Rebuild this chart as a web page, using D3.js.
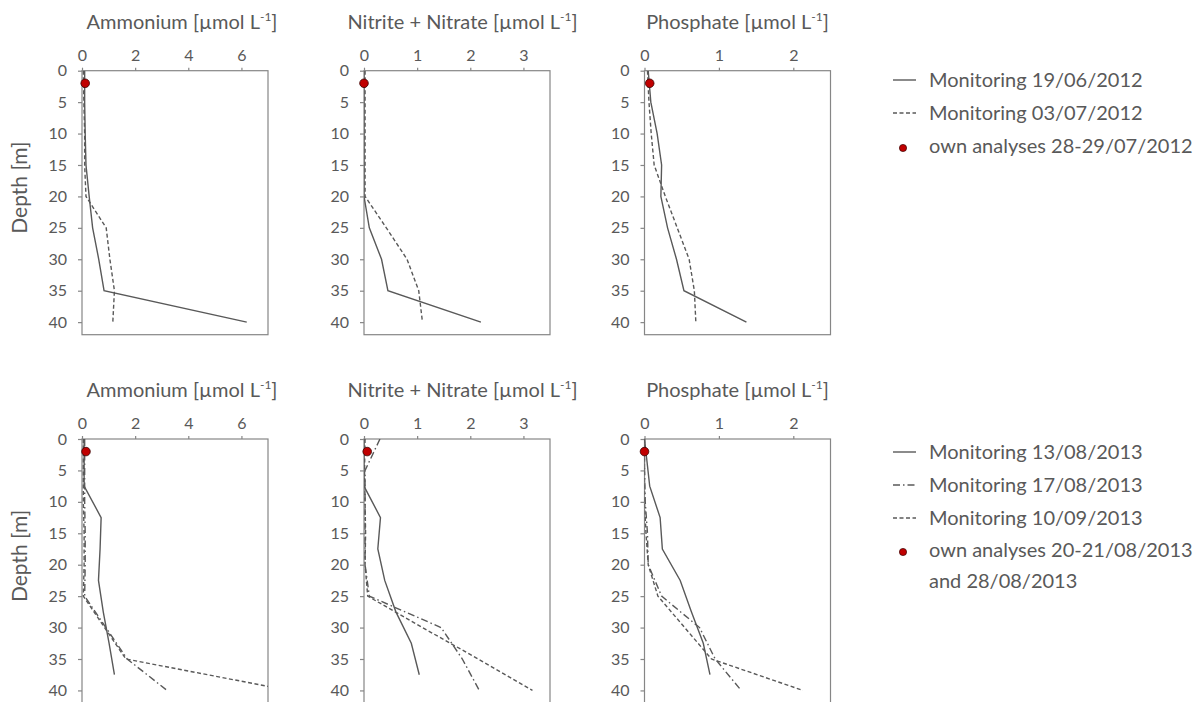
<!DOCTYPE html>
<html>
<head>
<meta charset="utf-8">
<script src="https://cdn.jsdelivr.net/npm/d3@7"></script>
<style>
  body { margin: 0; background: #fff; }
  svg { font-family: Lato, "Open Sans", sans-serif; }
</style>
</head>
<body>
<svg id="chart" width="1200" height="702"></svg>
<script>
// depths [m]
const depths2012 = [0, 5, 10, 15, 20, 25, 30, 35, 40];
const depths2013 = [0, 5, 10, 15, 20, 25, 30, 35, 40];
const depths130813 = [0, 7.5, 12.5, 17.5, 22.5, 27.5, 32.5, 37.5];
const ownDepth = [2];

// 2012 profiles
const nh4_190612 = [0.1, 0.1, 0.12, 0.15, 0.27, 0.4, 0.63, 0.83, 6.2];
const nh4_030712 = [0.05, 0.07, 0.1, 0.1, 0.15, 0.91, 1.05, 1.22, 1.16];
const nox_190612 = [0.0, 0.0, 0.0, 0.0, 0.0, 0.1, 0.33, 0.45, 2.2];
const nox_030712 = [0.02, 0.02, 0.02, 0.02, 0.02, 0.42, 0.81, 1.03, 1.1];
const po4_190612 = [0.05, 0.085, 0.17, 0.23, 0.22, 0.31, 0.43, 0.53, 1.37];
const po4_030712 = [0.04, 0.06, 0.09, 0.13, 0.28, 0.44, 0.6, 0.67, 0.69];
const own2012 = { nh4: [0.12], nox: [0.0], po4: [0.07] };

// 2013 profiles
const nh4_130813 = [0.08, 0.08, 0.72, 0.68, 0.62, 0.8, 1.02, 1.22];
const nh4_170813 = [0.1, 0.1, 0.1, 0.12, 0.12, 0.1, 0.9, 1.7, 3.2];
const nh4_100913 = [0.05, 0.05, 0.05, 0.08, 0.08, 0.05, 0.85, 1.65, 7.8];
const nox_130813 = [0.0, 0.0, 0.31, 0.26, 0.39, 0.6, 0.89, 1.04];
const nox_170813 = [0.3, 0.02, 0.02, 0.02, 0.02, 0.1, 1.45, 1.85, 2.17];
const nox_100913 = [0.02, 0.01, 0.02, 0.03, 0.02, 0.07, 1.1, 2.15, 3.17];
const po4_130813 = [0.0, 0.07, 0.21, 0.24, 0.48, 0.63, 0.79, 0.88];
const po4_170813 = [0.0, 0.0, 0.01, 0.04, 0.05, 0.23, 0.74, 0.95, 1.3];
const po4_100913 = [0.0, 0.0, 0.0, 0.02, 0.05, 0.18, 0.54, 0.9, 2.13];
const own2013 = { nh4: [0.15], nox: [0.06], po4: [0.0] };

// axes
const depthTicks = [0, 5, 10, 15, 20, 25, 30, 35, 40];
const depthMax = 42;
const nutrients = ["nh4", "nox", "po4"];
const nutrientNames = ["Ammonium [µmol L", "Nitrite + Nitrate [µmol L", "Phosphate [µmol L"];
const nutrientMax = [7, 3.5, 2.5];
const nutrientTicks = [[0, 2, 4, 6], [0, 1, 2, 3], [0, 1, 2]];

const legend2012 = ["Monitoring 19/06/2012", "Monitoring 03/07/2012", "own analyses 28-29/07/2012"];
const legend2013 = ["Monitoring 13/08/2013", "Monitoring 17/08/2013", "Monitoring 10/09/2013", "own analyses 20-21/08/2013", "and 28/08/2013"];

const grey = "#595959";
const boxGrey = "#868686";
const dotRed = "#c00000";
const styles = { solid: null, dashdot: "7,3,1.5,3", dashed: "4,2.5" };

const rows = [
  {
    top: 70.7,
    series: [
      { style: "solid", depths: depths2012, values: { nh4: nh4_190612, nox: nox_190612, po4: po4_190612 } },
      { style: "dashed", depths: depths2012, values: { nh4: nh4_030712, nox: nox_030712, po4: po4_030712 } }
    ],
    own: own2012,
    legend: legend2012,
    legendStyles: ["solid", "dashed", "dot"],
    legendY: [80, 113, 146]
  },
  {
    top: 439,
    series: [
      { style: "solid", depths: depths130813, values: { nh4: nh4_130813, nox: nox_130813, po4: po4_130813 } },
      { style: "dashdot", depths: depths2013, values: { nh4: nh4_170813, nox: nox_170813, po4: po4_170813 } },
      { style: "dashed", depths: depths2013, values: { nh4: nh4_100913, nox: nox_100913, po4: po4_100913 } }
    ],
    own: own2013,
    legend: legend2013,
    legendStyles: ["solid", "dashdot", "dashed", "dot", null],
    legendY: [452, 485, 518, 550, 581]
  }
];

const panelLeft = [82, 364, 644.5];
const titleOffset = [100, 98.5, 93];
const width = 186;
const height = 264;

const svg = d3.select("#chart");

rows.forEach((row, r) => {
  const yScale = d3.scaleLinear().domain([0, depthMax]).range([0, height]);

  nutrients.forEach((key, i) => {
    const xScale = d3.scaleLinear().domain([0, nutrientMax[i]]).range([0, width]);
    const g = svg.append("g").attr("transform", `translate(${panelLeft[i]},${row.top})`);
    const clipId = `clip-${r}-${i}`;

    g.append("clipPath")
      .attr("id", clipId)
      .append("rect")
      .attr("width", width)
      .attr("height", height);

    g.append("rect")
      .attr("width", width)
      .attr("height", height)
      .attr("fill", "none")
      .attr("stroke", boxGrey)
      .attr("stroke-width", 1.2);

    const xAxis = g
      .append("g")
      .call(d3.axisTop(xScale).tickValues(nutrientTicks[i]).tickFormat(d3.format("d")).tickSize(3).tickPadding(7));
    const yAxis = g
      .append("g")
      .call(d3.axisLeft(yScale).tickValues(depthTicks).tickFormat(d3.format("d")).tickSize(4).tickPadding(11));
    [xAxis, yAxis].forEach(ax => {
      ax.select(".domain").remove();
      ax.selectAll("line").attr("stroke", boxGrey).attr("stroke-width", 1.2);
      ax.selectAll("text")
        .attr("fill", grey)
        .style("font-size", "16px")
        .style("font-family", "Lato, sans-serif");
    });

    const line = d3
      .line()
      .x(d => xScale(d.x))
      .y(d => yScale(d.y));

    row.series.forEach(s => {
      const pts = s.depths.map((dep, k) => ({ y: dep, x: s.values[key][k] }));
      g.append("path")
        .datum(pts)
        .attr("clip-path", `url(#${clipId})`)
        .attr("fill", "none")
        .attr("stroke", grey)
        .attr("stroke-width", 1.4)
        .attr("stroke-dasharray", styles[s.style])
        .attr("d", line);
    });

    g.selectAll(".dot")
      .data(row.own[key].map((v, k) => ({ x: v, y: ownDepth[k] })))
      .enter()
      .append("circle")
      .attr("class", "dot")
      .attr("cx", d => xScale(d.x))
      .attr("cy", d => yScale(d.y))
      .attr("r", 4.3)
      .attr("fill", dotRed)
      .attr("stroke", "#3a0000")
      .attr("stroke-width", 0.8);

    const title = g
      .append("text")
      .attr("x", titleOffset[i])
      .attr("y", -49)
      .attr("dy", "0.35em")
      .attr("text-anchor", "middle")
      .attr("fill", grey)
      .style("font-size", "20px")
      .text(nutrientNames[i]);
    title.append("tspan").attr("dy", -8).style("font-size", "12px").text("-1");
    title.append("tspan").attr("dy", 8).text("]");

    if (i === 0) {
      g.append("text")
        .attr("transform", `translate(${20 - panelLeft[0]},${117}) rotate(-90)`)
        .attr("dy", "0.35em")
        .attr("text-anchor", "middle")
        .attr("fill", grey)
        .style("font-size", "21px")
        .text("Depth [m]");
    }
  });

  // legend
  const lg = svg.append("g");
  row.legend.forEach((label, k) => {
    const y = row.legendY[k];
    const st = row.legendStyles[k];
    if (st === "dot") {
      lg.append("circle")
        .attr("cx", 903)
        .attr("cy", y + 2)
        .attr("r", 3.6)
        .attr("fill", dotRed)
        .attr("stroke", "#3a0000")
        .attr("stroke-width", 0.7);
    } else if (st) {
      lg.append("line")
        .attr("x1", 893)
        .attr("x2", 916)
        .attr("y1", y)
        .attr("y2", y)
        .attr("stroke", grey)
        .attr("stroke-width", 1.4)
        .attr("stroke-dasharray", styles[st]);
    }
    lg.append("text")
      .attr("x", 929)
      .attr("y", y)
      .attr("dy", "0.35em")
      .attr("fill", grey)
      .style("font-size", "20px")
      .text(label);
  });
});
</script>
</body>
</html>
